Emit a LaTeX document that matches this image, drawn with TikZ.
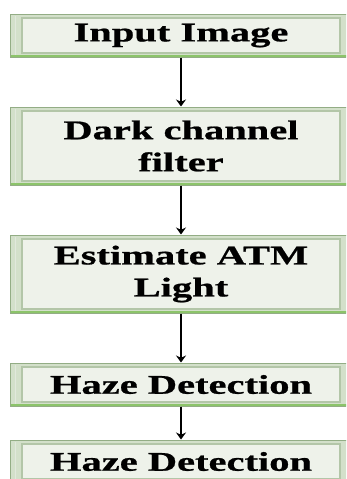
\documentclass[tikz,border=0pt]{standalone}
\usepackage{fontspec}
\newfontfamily\bx{Liberation Serif}[FakeStretch=1.5,BoldFeatures={FakeBold=0.8}]
\usetikzlibrary{arrows.meta}
\definecolor{outerfill}{HTML}{D3E0CA}
\definecolor{innerfill}{HTML}{EEF2EA}
\definecolor{outerline}{HTML}{93AD85}
\definecolor{innerline}{HTML}{B3C6A8}
\definecolor{bottomgreen}{HTML}{8CC46A}
\tikzset{
  stepbox/.style={draw=outerline, line width=1pt, fill=outerfill,
    minimum width=342pt, inner sep=0pt, align=center,
    font=\bx\bfseries\fontsize{27}{32}\selectfont, text=black,
    path picture={
      \fill[innerfill] ([xshift=12pt,yshift=-4pt]path picture bounding box.north west)
        rectangle ([xshift=-12pt,yshift=4pt]path picture bounding box.south east);
      \draw[innerline, line width=1.2pt] ([xshift=12pt,yshift=-4pt]path picture bounding box.north west)
        rectangle ([xshift=-12pt,yshift=4pt]path picture bounding box.south east);
      \draw[white!60!innerline, line width=1pt] ([xshift=5pt,yshift=-2pt]path picture bounding box.north west)
        -- ([xshift=5pt,yshift=2pt]path picture bounding box.south west);
      \draw[bottomgreen, line width=1.5pt] ([yshift=0.8pt]path picture bounding box.south west)
        -- ([yshift=0.8pt]path picture bounding box.south east);
    }},
  short/.style={stepbox, minimum height=43pt},
  tall/.style={stepbox, minimum height=78pt},
  arr/.style={-{Stealth[length=7pt,width=10pt]}, line width=2.2pt, black}
}
\begin{document}
\begin{tikzpicture}[x=1pt,y=1pt]
\useasboundingbox (0,0) rectangle (346,-479);
\clip (0,0) rectangle (346,-479);
\node[short] (b1) at (181,-35.5) {Input Image};
\node[tall]  (b2) at (181,-146) {Dark channel\\filter};
\node[tall]  (b3) at (181,-274) {Estimate ATM\\Light};
\node[short] (b4) at (181,-384.5) {Haze Detection};
\node[short] (b5) at (181,-461.5) {Haze Detection};
\draw[arr] (b1) -- (b2);
\draw[arr] (b2) -- (b3);
\draw[arr] (b3) -- (b4);
\draw[arr] (b4) -- (b5);
\end{tikzpicture}
\end{document}
